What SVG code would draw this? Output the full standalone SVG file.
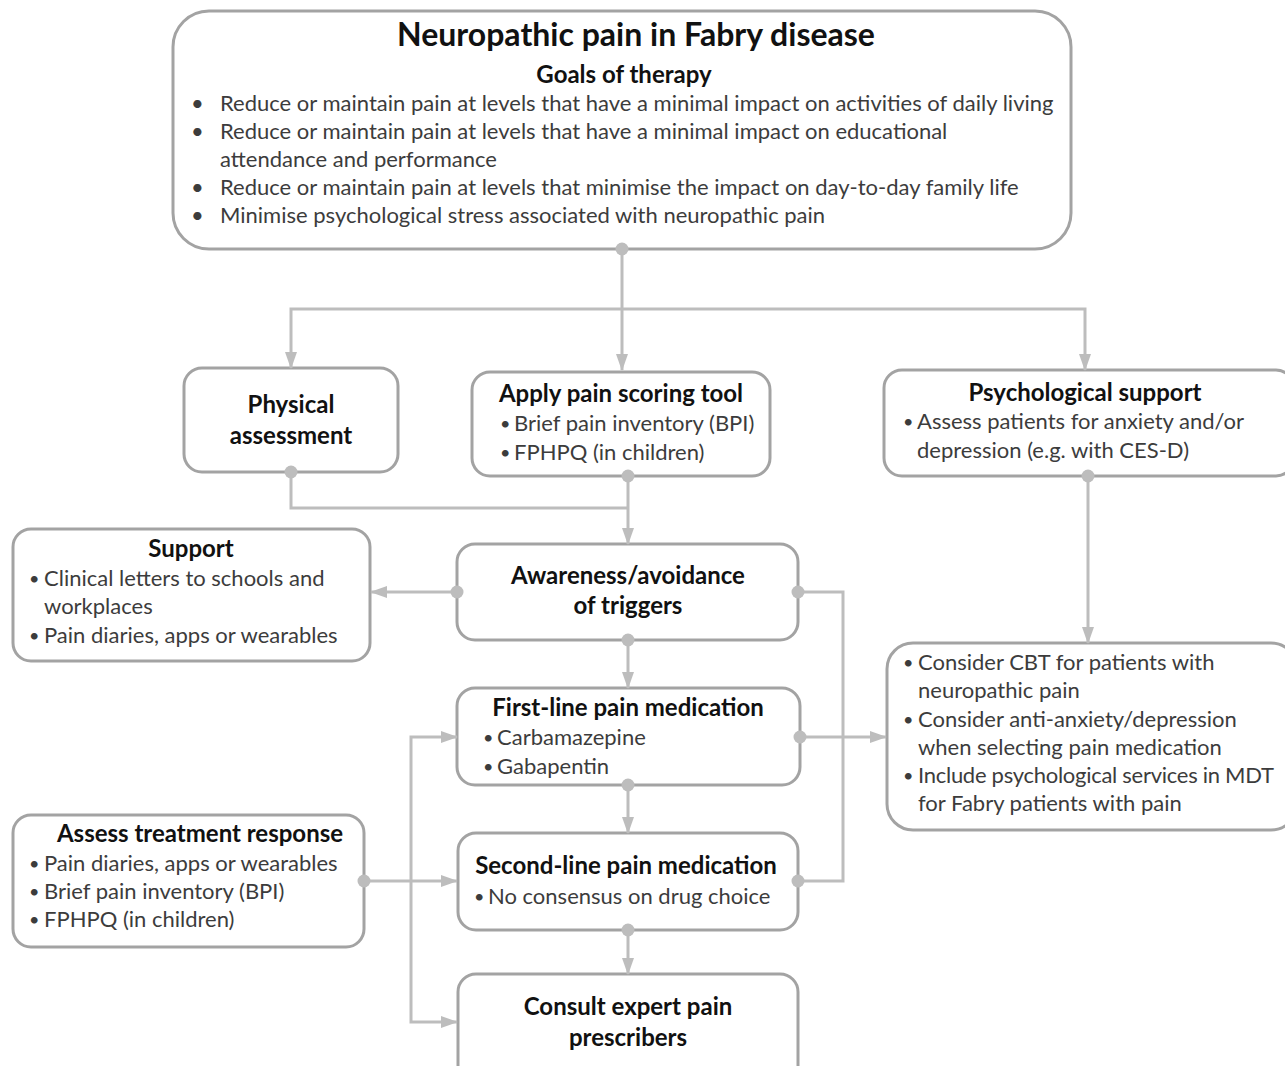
<svg xmlns="http://www.w3.org/2000/svg" width="1285" height="1066" viewBox="0 0 1285 1066">
<defs>
<marker id="arr" markerUnits="userSpaceOnUse" markerWidth="17" markerHeight="12" refX="16" refY="6" orient="auto">
<path d="M0,0 L17,6 L0,12 z" fill="#bdbdbd"/>
</marker>
<style>
.box{fill:#fff;stroke:#a3a3a3;stroke-width:3}
.c{fill:none;stroke:#bdbdbd;stroke-width:3}
.d{fill:#bdbdbd}
.t{font-family:Lato,"Liberation Sans",sans-serif;font-weight:bold;fill:#111;text-anchor:middle;font-size:24px}
.b{font-family:Lato,"Liberation Sans",sans-serif;fill:#3c3c3c;font-size:22px}
.s{font-size:18px}
</style>
</defs>
<rect width="1285" height="1066" fill="#fff"/>

<g id="goals">
<rect class="box" x="173" y="11" width="898" height="238" rx="36"/>
<text class="t" x="636" y="46" style="font-size:32px">Neuropathic pain in Fabry disease</text>
<text class="t" x="624" y="83">Goals of therapy</text>
<g class="b">
<text x="191" y="111">•</text><text x="220" y="111">Reduce or maintain pain at levels that have a minimal impact on activities of daily living</text>
<text x="191" y="139">•</text><text x="220" y="139">Reduce or maintain pain at levels that have a minimal impact on educational</text>
<text x="220" y="167">attendance and performance</text>
<text x="191" y="195">•</text><text x="220" y="195">Reduce or maintain pain at levels that minimise the impact on day-to-day family life</text>
<text x="191" y="223">•</text><text x="220" y="223">Minimise psychological stress associated with neuropathic pain</text>
</g>
</g>

<g id="physical">
<rect class="box" x="184" y="368" width="214" height="104" rx="18"/>
<text class="t" x="291" y="413">Physical</text>
<text class="t" x="291" y="444">assessment</text>
</g>

<g id="scoring">
<rect class="box" x="472" y="372" width="298" height="104" rx="18"/>
<text class="t" x="621" y="402">Apply pain scoring tool</text>
<g class="b">
<text class="s" x="500" y="430">•</text><text x="514" y="431">Brief pain inventory (BPI)</text>
<text class="s" x="500" y="459">•</text><text x="514" y="460">FPHPQ (in children)</text>
</g>
</g>

<g id="psych">
<rect class="box" x="884" y="370" width="410" height="106" rx="18"/>
<text class="t" x="1085" y="401">Psychological support</text>
<g class="b">
<text class="s" x="903" y="428">•</text><text x="917" y="429">Assess patients for anxiety and/or</text>
<text x="917" y="458">depression (e.g. with CES-D)</text>
</g>
</g>

<g id="support">
<rect class="box" x="13" y="529" width="357" height="132" rx="18"/>
<text class="t" x="191" y="557">Support</text>
<g class="b">
<text class="s" x="29" y="585">•</text><text x="44" y="586">Clinical letters to schools and</text>
<text x="44" y="614">workplaces</text>
<text class="s" x="29" y="642">•</text><text x="44" y="643">Pain diaries, apps or wearables</text>
</g>
</g>

<g id="awareness">
<rect class="box" x="457" y="544" width="341" height="96" rx="18"/>
<text class="t" x="628" y="584">Awareness/avoidance</text>
<text class="t" x="628" y="614">of triggers</text>
</g>

<g id="firstline">
<rect class="box" x="457" y="688" width="343" height="97" rx="18"/>
<text class="t" x="628" y="716">First-line pain medication</text>
<g class="b">
<text class="s" x="483" y="744">•</text><text x="497" y="745">Carbamazepine</text>
<text class="s" x="483" y="773">•</text><text x="497" y="774">Gabapentin</text>
</g>
</g>

<g id="secondline">
<rect class="box" x="458" y="833" width="340" height="97" rx="18"/>
<text class="t" x="626" y="874">Second-line pain medication</text>
<g class="b">
<text class="s" x="474" y="903">•</text><text x="488" y="904">No consensus on drug choice</text>
</g>
</g>

<g id="consult">
<rect class="box" x="458" y="974" width="340" height="110" rx="18"/>
<text class="t" x="628" y="1015">Consult expert pain</text>
<text class="t" x="628" y="1046">prescribers</text>
</g>

<g id="assess">
<rect class="box" x="13" y="815" width="351" height="132" rx="18"/>
<text class="t" x="200" y="842">Assess treatment response</text>
<g class="b">
<text class="s" x="29" y="870">•</text><text x="44" y="871">Pain diaries, apps or wearables</text>
<text class="s" x="29" y="898">•</text><text x="44" y="899">Brief pain inventory (BPI)</text>
<text class="s" x="29" y="926">•</text><text x="44" y="927">FPHPQ (in children)</text>
</g>
</g>

<g id="cbt">
<rect class="box" x="887" y="643" width="410" height="187" rx="26"/>
<g class="b">
<text class="s" x="903" y="669">•</text><text x="918" y="670">Consider CBT for patients with</text>
<text x="918" y="698">neuropathic pain</text>
<text class="s" x="903" y="726">•</text><text x="918" y="727">Consider anti-anxiety/depression</text>
<text x="918" y="755">when selecting pain medication</text>
<text class="s" x="903" y="782">•</text><text x="918" y="783" textLength="356">Include psychological services in MDT</text>
<text x="918" y="811">for Fabry patients with pain</text>
</g>
</g>

<g id="connectors">
<path class="c" d="M622,249 V370" marker-end="url(#arr)"/>
<path class="c" d="M622,309 H291 V368" marker-end="url(#arr)"/>
<path class="c" d="M622,309 H1085 V370" marker-end="url(#arr)"/>
<path class="c" d="M291,472 V508 H628"/>
<path class="c" d="M628,476 V544" marker-end="url(#arr)"/>
<path class="c" d="M457,592 H371" marker-end="url(#arr)"/>
<path class="c" d="M798,592 H843 V881 H798"/>
<path class="c" d="M800,737 H886" marker-end="url(#arr)"/>
<path class="c" d="M628,640 V688" marker-end="url(#arr)"/>
<path class="c" d="M628,785 V833" marker-end="url(#arr)"/>
<path class="c" d="M628,930 V974" marker-end="url(#arr)"/>
<path class="c" d="M364,881 H457" marker-end="url(#arr)"/>
<path class="c" d="M411,881 V737 H457" marker-end="url(#arr)"/>
<path class="c" d="M411,881 V1022 H457" marker-end="url(#arr)"/>
<path class="c" d="M1088,476 V643" marker-end="url(#arr)"/>
<circle class="d" cx="622" cy="249" r="6.5"/>
<circle class="d" cx="291" cy="472" r="6.5"/>
<circle class="d" cx="628" cy="476" r="6.5"/>
<circle class="d" cx="457" cy="592" r="6.5"/>
<circle class="d" cx="798" cy="592" r="6.5"/>
<circle class="d" cx="798" cy="881" r="6.5"/>
<circle class="d" cx="800" cy="737" r="6.5"/>
<circle class="d" cx="628" cy="640" r="6.5"/>
<circle class="d" cx="628" cy="785" r="6.5"/>
<circle class="d" cx="628" cy="930" r="6.5"/>
<circle class="d" cx="364" cy="881" r="6.5"/>
<circle class="d" cx="1088" cy="476" r="6.5"/>
</g>
</svg>
